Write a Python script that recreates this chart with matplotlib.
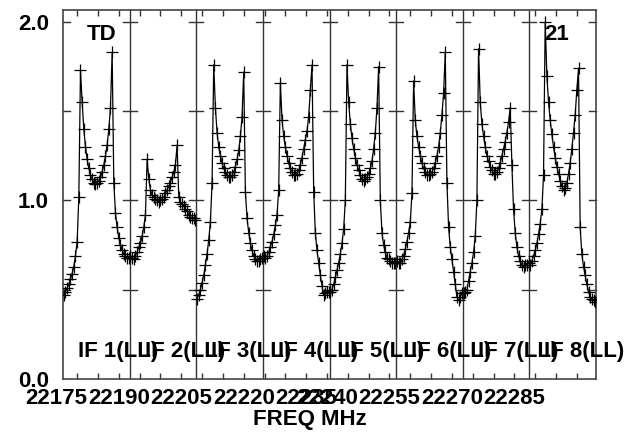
import numpy as np
import matplotlib
matplotlib.use("Agg")
import matplotlib.pyplot as plt

# ---------------- data ----------------
F0 = 22176.6          # start frequency of IF 1 (MHz)
IF_WIDTH = 16.0       # MHz per IF
N_CHAN = 40           # channels per IF

if_names = ["IF 1(LL)", "IF 2(LL)", "IF 3(LL)", "IF 4(LL)",
            "IF 5(LL)", "IF 6(LL)", "IF 7(LL)", "IF 8(LL)"]

amp_if1 = [0.47, 0.49, 0.51, 0.53, 0.56, 0.59, 0.63, 0.69, 0.77, 1.02,
           1.73, 1.55, 1.40, 1.30, 1.23, 1.18, 1.14, 1.12, 1.10, 1.09,
           1.10, 1.11, 1.13, 1.16, 1.20, 1.25, 1.31, 1.40, 1.52, 1.83,
           1.10, 0.93, 0.85, 0.79, 0.75, 0.72, 0.70, 0.69, 0.68, 0.68]
amp_if2 = [0.69, 0.68, 0.67, 0.69, 0.71, 0.74, 0.76, 0.80, 0.85, 0.92,
           1.23, 1.12, 1.06, 1.03, 1.02, 1.01, 1.00, 0.99, 1.00, 1.01,
           1.02, 1.04, 1.06, 1.08, 1.10, 1.13, 1.16, 1.20, 1.31, 1.02,
           0.99, 0.98, 0.97, 0.95, 0.94, 0.92, 0.91, 0.90, 0.90, 0.89]
amp_if3 = [0.45, 0.47, 0.50, 0.54, 0.58, 0.64, 0.70, 0.78, 0.88, 1.10,
           1.76, 1.52, 1.38, 1.30, 1.25, 1.21, 1.18, 1.16, 1.14, 1.13,
           1.13, 1.14, 1.16, 1.19, 1.23, 1.28, 1.36, 1.47, 1.72, 1.05,
           0.90, 0.82, 0.76, 0.72, 0.69, 0.67, 0.66, 0.66, 0.67, 0.68]
amp_if4 = [0.69, 0.68, 0.69, 0.71, 0.74, 0.77, 0.81, 0.86, 0.92, 1.06,
           1.66, 1.45, 1.36, 1.30, 1.25, 1.21, 1.18, 1.16, 1.14, 1.14,
           1.15, 1.17, 1.20, 1.24, 1.29, 1.34, 1.39, 1.47, 1.62, 1.76,
           1.05, 0.82, 0.72, 0.65, 0.58, 0.52, 0.47, 0.48, 0.49, 0.49]
amp_if5 = [0.49, 0.50, 0.53, 0.57, 0.61, 0.65, 0.70, 0.76, 0.84, 1.00,
           1.76, 1.55, 1.43, 1.35, 1.29, 1.24, 1.20, 1.17, 1.14, 1.12,
           1.11, 1.12, 1.13, 1.15, 1.18, 1.22, 1.29, 1.38, 1.52, 1.75,
           1.00, 0.82, 0.75, 0.71, 0.68, 0.67, 0.66, 0.65, 0.65, 0.65]
amp_if6 = [0.66, 0.65, 0.65, 0.67, 0.69, 0.73, 0.77, 0.82, 0.88, 1.04,
           1.67, 1.45, 1.36, 1.30, 1.25, 1.21, 1.18, 1.16, 1.14, 1.14,
           1.15, 1.16, 1.18, 1.21, 1.25, 1.30, 1.38, 1.48, 1.60, 1.83,
           1.10, 0.85, 0.74, 0.67, 0.60, 0.53, 0.46, 0.44, 0.46, 0.48]
amp_if7 = [0.48, 0.49, 0.50, 0.55, 0.60, 0.65, 0.71, 0.80, 1.00, 1.85,
           1.55, 1.43, 1.36, 1.30, 1.25, 1.22, 1.19, 1.17, 1.15, 1.15,
           1.16, 1.18, 1.21, 1.25, 1.29, 1.33, 1.38, 1.44, 1.52, 1.20,
           0.95, 0.82, 0.74, 0.69, 0.66, 0.64, 0.63, 0.64, 0.64, 0.65]
amp_if8 = [0.64, 0.66, 0.69, 0.72, 0.76, 0.81, 0.87, 0.95, 1.14, 2.00,
           1.70, 1.55, 1.45, 1.37, 1.30, 1.24, 1.19, 1.15, 1.11, 1.08,
           1.06, 1.07, 1.10, 1.15, 1.21, 1.29, 1.38, 1.48, 1.62, 1.74,
           0.85, 0.70, 0.63, 0.58, 0.53, 0.49, 0.46, 0.45, 0.44, 0.43]

all_ifs = [amp_if1, amp_if2, amp_if3, amp_if4,
           amp_if5, amp_if6, amp_if7, amp_if8]

x_label_values = [22175, 22190, 22205, 22220, 22235, 22240, 22255, 22270, 22285]
x_label_texts = ["22175", "22190", "22205", "22220", "22235",
                 "22240", "22255", "22270", "22285"]
y_tick_values = [0.0, 0.5, 1.0, 1.5, 2.0]
y_tick_texts = ["0.0", "", "1.0", "", "2.0"]

# ---------------- figure ----------------
FONT = "Liberation Sans"
plt.rcParams["font.family"] = [FONT, "DejaVu Sans"]

W, H = 632, 432
fig = plt.figure(figsize=(W / 100, H / 100), dpi=100)
ax = fig.add_axes([63 / W, 1 - 379 / H, 533 / W, 369 / H])

x_min = F0
x_max = F0 + IF_WIDTH * len(all_ifs)
ax.set_xlim(x_min, x_max)
ax.set_ylim(0.0, 2.067)

for k, amps in enumerate(all_ifs):
    freqs = F0 + k * IF_WIDTH + (np.arange(N_CHAN) + 0.5) * IF_WIDTH / N_CHAN
    ax.plot(freqs, amps, color="black", lw=0.9, marker="+",
            ms=8.5, mew=0.9, zorder=3)

# panel separators and per-panel y ticks
px_per_mhz = 533 / (x_max - x_min)
tick_half = 7 / px_per_mhz
for k in range(len(all_ifs) + 1):
    b = F0 + k * IF_WIDTH
    if 0 < k < len(all_ifs):
        ax.axvline(b, color="#333333", lw=1.0, zorder=2)
    lo = b - tick_half if k > 0 else b
    hi = b + tick_half if k < len(all_ifs) else b
    for yv in y_tick_values[1:]:
        ax.plot([lo, hi], [yv, yv], color="#333333", lw=1.0, zorder=2,
                clip_on=False)

# axes styling
for s in ax.spines.values():
    s.set_color("#444444")
    s.set_linewidth(1.2)

ax.set_yticks(y_tick_values)
ax.set_yticklabels(y_tick_texts, fontsize=16, fontweight="bold")
ax.tick_params(axis="y", length=0, pad=10)

ax.set_xticks(np.arange(22180, x_max, 5))
ax.set_xticklabels([])
ax.tick_params(axis="x", direction="in", length=4.3, width=1.0,
               top=True, bottom=True, color="#333333")

for v, t in zip(x_label_values, x_label_texts):
    ax.text(v, -19 / 369, t, transform=ax.get_xaxis_transform(),
            ha="center", va="center", fontsize=16, fontweight="bold",
            clip_on=False)

# IF labels
for k, name in enumerate(if_names):
    ax.text(F0 + k * IF_WIDTH + 15 / px_per_mhz, 0.154, name,
            ha="left", va="center", fontsize=16, fontweight="bold",
            zorder=5, clip_on=False)

fig.text(310 / W, 1 - 420 / H, "FREQ MHz", ha="center", va="center",
         fontsize=16, fontweight="bold")
fig.text(102 / W, 1 - 35 / H, "TD", ha="center", va="center",
         fontsize=16, fontweight="bold")
fig.text(557 / W, 1 - 35 / H, "21", ha="center", va="center",
         fontsize=16, fontweight="bold")

fig.savefig("out.png", dpi=100)
